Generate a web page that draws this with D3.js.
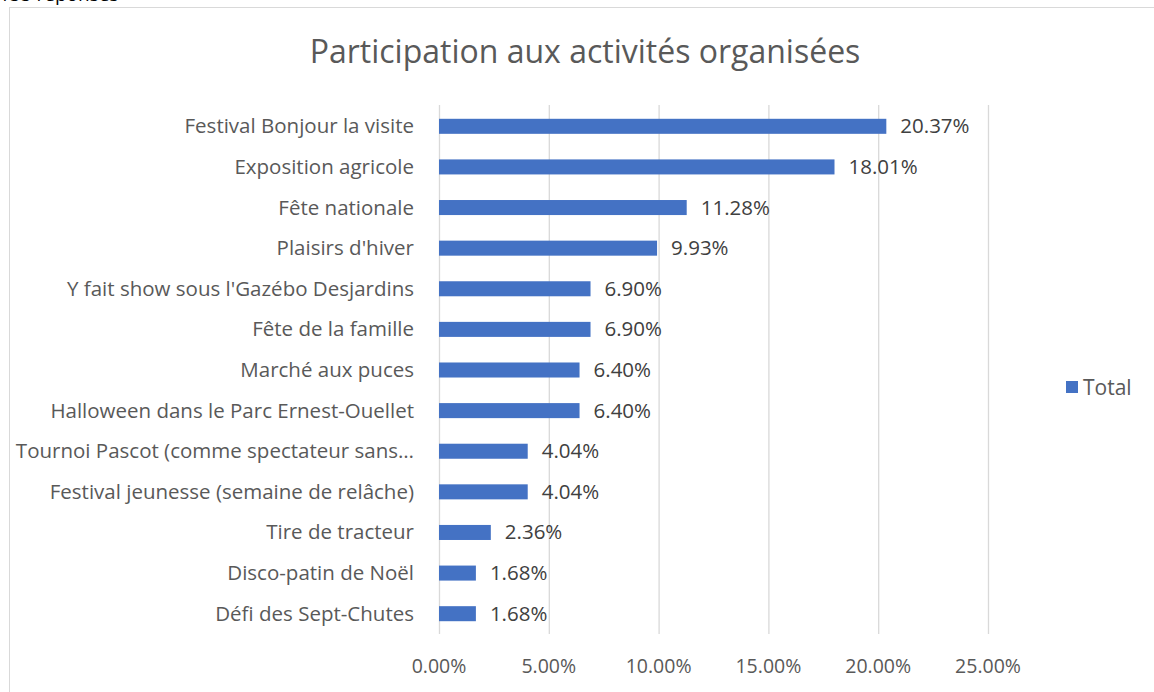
<!DOCTYPE html>
<html><head><meta charset="utf-8">
<script src="https://cdn.jsdelivr.net/npm/d3@7"></script>
<style>body{margin:0;background:#fff}svg{display:block}</style>
</head><body>
<script>
const categories = ["Festival Bonjour la visite","Exposition agricole","Fête nationale","Plaisirs d'hiver","Y fait show sous l'Gazébo Desjardins","Fête de la famille","Marché aux puces","Halloween dans le Parc Ernest-Ouellet","Tournoi Pascot (comme spectateur sans…","Festival jeunesse (semaine de relâche)","Tire de tracteur","Disco-patin de Noël","Défi des Sept-Chutes"];
const values = [20.37,18.01,11.28,9.93,6.90,6.90,6.40,6.40,4.04,4.04,2.36,1.68,1.68];
const ticks = [0,5,10,15,20,25];
const title = "Participation aux activités organisées";
const seriesName = "Total";

const W=1154,H=692;
const svg=d3.select("body").append("svg").attr("width",W).attr("height",H);
const font="'Open Sans', 'Liberation Sans', sans-serif";
const txt="#595959";

svg.append("text").attr("x",-1).attr("y",1).attr("font-family",font).attr("font-size",19).attr("fill","#000").text("155 réponses");
svg.append("rect").attr("x",9.5).attr("y",7.5).attr("width",W+20).attr("height",H+20).attr("fill","#fff").attr("stroke","#d9d9d9");

svg.append("text").attr("x",585).attr("y",63).attr("text-anchor","middle").attr("font-family",font).attr("font-size",32).attr("fill",txt).text(title);

const x=d3.scaleLinear().domain([0,25]).range([439,988]);
const y=d3.scaleBand().domain(categories).range([106,634]).paddingInner(0.63).paddingOuter(0.315);

svg.append("g").selectAll("line").data(ticks).join("line")
 .attr("x1",d=>x(d)+0.5).attr("x2",d=>x(d)+0.5).attr("y1",105).attr("y2",634)
 .attr("stroke","#d9d9d9").attr("stroke-width",1.3);

svg.append("g").selectAll("text").data(ticks).join("text")
 .attr("x",d=>x(d)).attr("y",673).attr("text-anchor","middle").attr("font-family",font).attr("font-size",19.5).attr("fill",txt)
 .text(d=>d.toFixed(2)+"%");

svg.append("g").selectAll("rect").data(values).join("rect")
 .attr("x",x(0)).attr("y",(d,i)=>y(categories[i])).attr("width",d=>x(d)-x(0)).attr("height",y.bandwidth()).attr("fill","#4472c4");

svg.append("g").selectAll("text").data(values).join("text")
 .attr("x",d=>x(d)+14).attr("y",(d,i)=>y(categories[i])+y.bandwidth()/2+7).attr("font-family",font).attr("font-size",20.5).attr("fill","#404040")
 .text(d=>d.toFixed(2)+"%");

svg.append("g").selectAll("text").data(categories).join("text")
 .attr("x",414).attr("y",d=>y(d)+y.bandwidth()/2+7).attr("text-anchor","end").attr("font-family",font).attr("font-size",20.5).attr("fill",txt)
 .text(d=>d);

svg.append("rect").attr("x",1066).attr("y",381).attr("width",12).attr("height",12).attr("fill","#4472c4");
svg.append("text").attr("x",1083).attr("y",395).attr("font-family",font).attr("font-size",21).attr("fill",txt).text(seriesName);
</script>
</body></html>
